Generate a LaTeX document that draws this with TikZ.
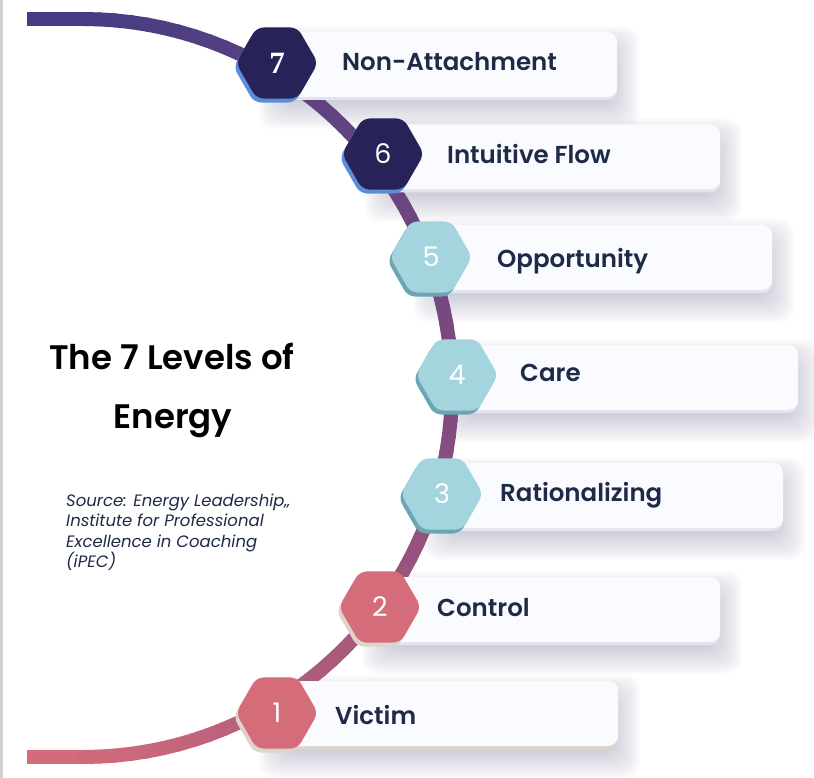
\documentclass[tikz,border=0pt]{standalone}
\usepackage{fontspec}
\setmainfont{Poppins}
\newfontfamily\lblfont{Poppins}[UprightFont={* SemiBold}]
\newfontfamily\numfont{Poppins}
\newfontfamily\serifnum{Liberation Serif}
\usetikzlibrary{shapes.geometric,shadows}
\definecolor{arcTop}{HTML}{463C84}
\definecolor{arcMid}{HTML}{7E497E}
\definecolor{arcBot}{HTML}{D36B7B}
\definecolor{navy}{HTML}{1E2A48}
\definecolor{hexDark}{HTML}{272258}
\definecolor{edgeBlue}{HTML}{5B8ED8}
\definecolor{hexTeal}{HTML}{A4D4DE}
\definecolor{edgeTeal}{HTML}{6CA6B2}
\definecolor{hexPink}{HTML}{D46C7A}
\definecolor{edgeBeige}{HTML}{DDD4CA}
\definecolor{cardFill}{HTML}{FAFBFE}
\definecolor{lipGray}{HTML}{E2E4EE}
\definecolor{shc}{HTML}{8C8CAE}
\definecolor{borderGray}{HTML}{CFCFCF}
\newcommand\cshadow[4]{\foreach \k in {0,...,13}{\fill[shc,opacity=0.03,rounded corners=14pt] ({#1+8-\k*2},{#2+20-\k*2}) rectangle ({#3-4+\k*2},{#4+6+\k*2});}}
\tikzset{
  card/.style={draw=none, fill=cardFill, rounded corners=10pt, minimum height=65pt, anchor=west, inner sep=0pt},
  lipgray/.style={copy shadow={fill=lipGray, draw=none, shadow xshift=0pt, shadow yshift=-3pt}},
  lipbeige/.style={copy shadow={fill=edgeBeige, draw=none, shadow xshift=0pt, shadow yshift=-3pt}},
  hexbase/.style={regular polygon, regular polygon sides=6, minimum size=82pt, inner sep=0pt, rounded corners=7pt, draw=none, text=white, font=\numfont\fontsize{27}{30}\selectfont},
  hexA/.style={hexbase, fill=hexDark, copy shadow={fill=edgeBlue, draw=none, shadow xshift=-2.5pt, shadow yshift=-4pt}},
  hexB/.style={hexbase, fill=hexTeal, copy shadow={fill=edgeTeal, draw=none, shadow xshift=-2.5pt, shadow yshift=-4pt}},
  hexC/.style={hexbase, fill=hexPink, copy shadow={fill=edgeBeige, draw=none, shadow xshift=-2.5pt, shadow yshift=-4pt}},
  lbl/.style={anchor=base west, inner sep=0pt, text=navy, font=\lblfont\fontsize{24.5}{30}\selectfont},
  src/.style={anchor=base west, inner sep=0pt, text=navy, font=\itshape\fontsize{16.5}{20}\selectfont},
  ttl/.style={anchor=base, inner sep=0pt, text=black, font=\lblfont\fontsize{34}{40}\selectfont}
}
\begin{document}
\begin{tikzpicture}[x=1pt,y=-1pt]
\useasboundingbox (0,0) rectangle (814,778);
\fill[white] (0,0) rectangle (814,778);
\fill[borderGray] (0,0) rectangle (3,778);
% card shadows
\cshadow{277}{32}{617}{97}
\cshadow{383}{124}{720}{190}
\cshadow{431}{225}{772}{290}
\cshadow{457}{345}{798}{410}
\cshadow{442}{463}{783}{528}
\cshadow{380}{577}{720}{642}
\cshadow{277}{681}{618}{746}
% arc
\draw[arcTop, line width=14pt] (27,19) -- (84,19);
\draw[arcBot, line width=14pt] (27,757) -- (84,757);
\foreach \i in {0,...,71}{
  \pgfmathsetmacro\ta{-90+\i*2.5}
  \pgfmathsetmacro\tb{-90+(\i+1)*2.5}
  \pgfmathtruncatemacro\pa{min(100,max(0,100-\i*100/36))}
  \pgfmathtruncatemacro\pb{min(100,max(0,(\i-36)*100/36))}
  \colorlet{segtmp}{arcTop!\pa!arcMid}
  \colorlet{segcol}{arcBot!\pb!segtmp}
  \draw[segcol, line width=14pt, line cap=round] ({83+369*cos(\ta)},{388+369*sin(\ta)}) -- ({83+369*cos(\tb)},{388+369*sin(\tb)});
}
% cards
\node[card, lipgray, minimum width=340pt] (c7) at (277,64.5) {};
\node[card, lipgray, minimum width=337pt] (c6) at (383,157) {};
\node[card, lipgray, minimum width=341pt] (c5) at (431,257.5) {};
\node[card, lipgray, minimum width=341pt] (c4) at (457,377.5) {};
\node[card, lipgray, minimum width=341pt] (c3) at (442,495.5) {};
\node[card, lipgray, minimum width=340pt] (c2) at (380,609.5) {};
\node[card, lipbeige, minimum width=341pt] (c1) at (277,713.5) {};
% hexagons
\node[hexA] (h7) at (277,63) {\serifnum\bfseries\fontsize{31}{32}\selectfont 7};
\node[hexA] (h6) at (383,154) {6};
\node[hexB] (h5) at (431,257) {5};
\node[hexB] (h4) at (457,375) {4};
\node[hexB] (h3) at (442,494) {3};
\node[hexC] (h2) at (380,607) {2};
\node[hexC] (h1) at (277,713) {1};
% labels
\node[lbl] (l7) at (342,71) {Non-Attachment};
\node[lbl] (l6) at (447,164) {Intuitive Flow};
\node[lbl] (l5) at (497,267) {Opportunity};
\node[lbl] (l4) at (520,381) {Care};
\node[lbl] (l3) at (500,501) {Rationalizing};
\node[lbl] (l2) at (437,616) {Control};
\node[lbl] (l1) at (335,724) {Victim};
% title
\node[ttl] (t1) at (172,369) {The 7 Levels of};
\node[ttl] (t2) at (173,428) {Energy};
\node[src] (s1) at (66,506) {Source: Energy Leadership,,};
\node[src] (s2) at (66,526.5) {Institute for Professional};
\node[src] (s3) at (66,547) {Excellence in Coaching};
\node[src] (s4) at (66,567.5) {(iPEC)};
\end{tikzpicture}
\end{document}
